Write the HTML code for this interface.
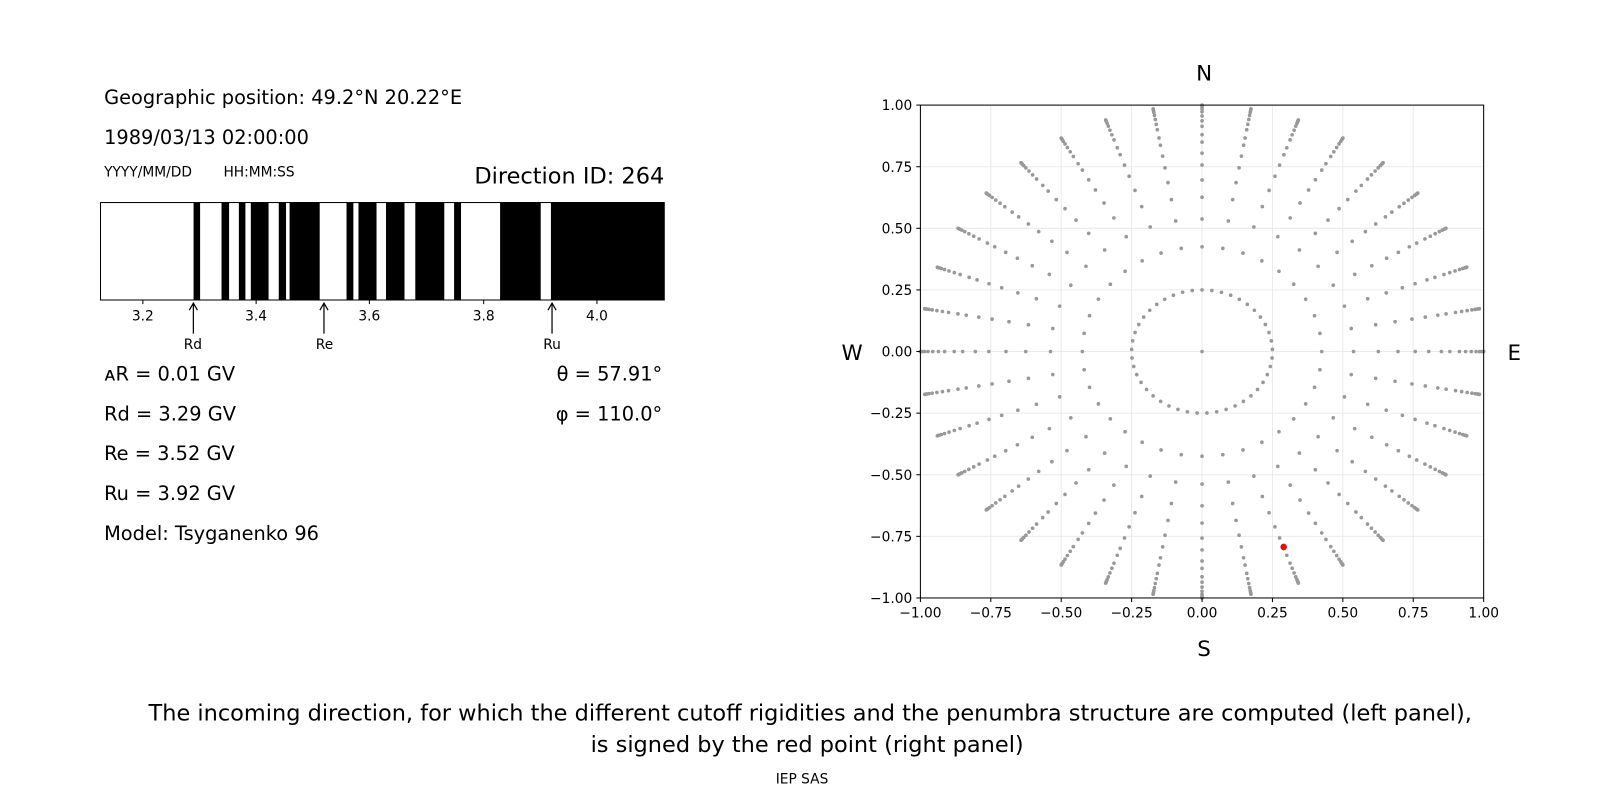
<!DOCTYPE html>
<html><head><meta charset="utf-8"><style>
body{margin:0;background:#fff;}
svg text{font-family:"DejaVu Sans","Liberation Sans",sans-serif;}
</style></head><body>
<svg id="s" width="1600" height="800" xmlns="http://www.w3.org/2000/svg">
<rect width="1600" height="800" fill="#fff"/>
<g transform="scale(1.0204)">
<g font-size="19" fill="#000">
<text x="102" y="102">Geographic position: 49.2°N 20.22°E</text>
<text x="102" y="141">1989/03/13 02:00:00</text>
<text x="102" y="373">ᴀR = 0.01 GV</text>
<text x="102" y="412">Rd = 3.29 GV</text>
<text x="102" y="451">Re = 3.52 GV</text>
<text x="102" y="490">Ru = 3.92 GV</text>
<text x="102" y="529">Model: Tsyganenko 96</text>
<text x="649" y="373" text-anchor="end">θ = 57.91°</text>
<text x="649" y="412" text-anchor="end">φ = 110.0°</text>
</g>
<text x="102" y="173" font-size="13.5">YYYY/MM/DD</text>
<text x="219" y="173" font-size="13.5">HH:MM:SS</text>
<text x="651" y="180" font-size="22" text-anchor="end">Direction ID: 264</text>
<g fill="#000">
<rect x="189.7" y="198" width="6.4" height="96"/>
<rect x="217.1" y="198" width="7.4" height="96"/>
<rect x="234.1" y="198" width="6.4" height="96"/>
<rect x="245.8" y="198" width="17.4" height="96"/>
<rect x="273.2" y="198" width="7.1" height="96"/>
<rect x="283.8" y="198" width="29.5" height="96"/>
<rect x="339.6" y="198" width="6.7" height="96"/>
<rect x="351.3" y="198" width="17.7" height="96"/>
<rect x="378.3" y="198" width="18.1" height="96"/>
<rect x="407" y="198" width="28.4" height="96"/>
<rect x="445" y="198" width="6.8" height="96"/>
<rect x="490.1" y="198" width="39.8" height="96"/>
<rect x="539.9" y="198" width="111.1" height="96"/>
</g>
<rect x="98.5" y="198.5" width="552.5" height="95.5" fill="none" stroke="#000" stroke-width="1"/>
<g stroke="#000">
<line x1="140" y1="294" x2="140" y2="298"/><line x1="251" y1="294" x2="251" y2="298"/>
<line x1="362" y1="294" x2="362" y2="298"/><line x1="474" y1="294" x2="474" y2="298"/>
<line x1="585" y1="294" x2="585" y2="298"/>
</g>
<g font-size="13.5" text-anchor="middle">
<text x="140" y="314">3.2</text><text x="251" y="314">3.4</text><text x="362" y="314">3.6</text><text x="474" y="314">3.8</text><text x="585" y="314">4.0</text>
<text x="189" y="342">Rd</text><text x="318" y="342">Re</text><text x="541" y="342">Ru</text>
</g>
<g stroke="#000" fill="none" stroke-width="1.2">
<path d="M189.5 327V298M185.5 304L189.5 297L193.5 304"/>
<path d="M317.5 327V298M313.5 304L317.5 297L321.5 304"/>
<path d="M541 327V298M537 304L541 297L545 304"/>
</g>
<g id="grid" stroke="#ebebeb" stroke-width="1"></g>
<g id="pts" fill="#999"></g>
<circle cx="1258" cy="536" r="3.2" fill="#f00"/>
<rect x="902" y="103" width="552" height="483" fill="none" stroke="#000" stroke-width="1"/>
<g id="ticks" stroke="#000"></g>
<g id="tl" font-size="13.5"></g>
<g font-size="21" text-anchor="middle">
<text x="1180" y="79">N</text><text x="1180" y="643">S</text>
<text x="835" y="353">W</text><text x="1484" y="353">E</text>
</g>
<g font-size="22" text-anchor="middle">
<text x="794" y="706">The incoming direction, for which the different cutoff rigidities and the penumbra structure are computed (left panel),</text>
<text x="791" y="737">is signed by the red point (right panel)</text>
</g>
<text x="786" y="768" font-size="13.5" text-anchor="middle">IEP SAS</text>
</g>
</svg>
<script>
var NS="http://www.w3.org/2000/svg";
function X(v){return 1178+v*276;}function Y(v){return 344.5-v*241.5;}
function el(p,t,a){var e=document.createElementNS(NS,t);for(var k in a)e.setAttribute(k,a[k]);p.appendChild(e);return e;}
var g=document.getElementById("grid"),tk=document.getElementById("ticks"),tl=document.getElementById("tl");
var vals=[-1,-0.75,-0.5,-0.25,0,0.25,0.5,0.75,1];
vals.forEach(function(v){
 el(g,"line",{x1:X(v),y1:103,x2:X(v),y2:586});
 el(g,"line",{x1:902,y1:Y(v),x2:1454,y2:Y(v)});
 el(tk,"line",{x1:X(v),y1:586,x2:X(v),y2:590});
 el(tk,"line",{x1:898,y1:Y(v),x2:902,y2:Y(v)});
 var s=v.toFixed(2).replace("-","−");
 var t=el(tl,"text",{x:X(v),y:605,"text-anchor":"middle"});t.textContent=s;
 var t2=el(tl,"text",{x:894,y:Y(v)+5,"text-anchor":"end"});t2.textContent=s;
});
var p=document.getElementById("pts");
var rs=[0.425,0.538,0.626,0.696,0.757,0.805,0.85,0.88,0.914,0.936,0.956,0.973,0.985,0.993,0.998,1.0];
el(p,"circle",{cx:X(0),cy:Y(0),r:1.8});
for(var a=0;a<360;a+=8){var t=a*Math.PI/180;el(p,"circle",{cx:X(0.25*Math.sin(t)),cy:Y(0.25*Math.cos(t)),r:1.8});}
for(var a=0;a<360;a+=10){var t=a*Math.PI/180;rs.forEach(function(r){
 var x=r*Math.sin(t),y=r*Math.cos(t);if(Math.abs(y)<=1.001)el(p,"circle",{cx:X(x),cy:Y(y),r:1.8});});}
</script>
</body></html>
